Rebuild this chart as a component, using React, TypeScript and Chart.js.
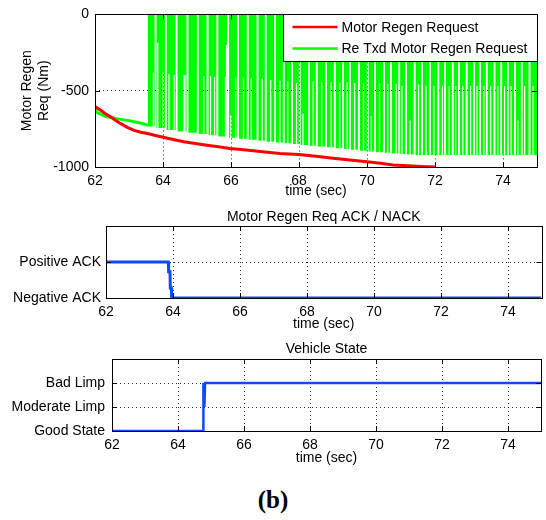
import React, { useEffect, useRef } from 'react';
import { Chart, registerables } from 'chart.js';

Chart.register(...registerables);

const SANS = '"Liberation Sans", Arial, Helvetica, sans-serif';
const GRID = 'rgba(0,0,0,0.85)';
const RED = '#ff0000';
const GREEN = '#00ff00';
const BLUE = 'rgb(16,72,255)';

// shared time axis (sec)
const timeMin = 62;
const timeMax = 75;
const timeTicks = [62, 64, 66, 68, 70, 72, 74];

// ---------- Top panel: Motor Regen Req (Nm) ----------
const regenTicks = [-1000, -500, 0];
const seriesNames = ['Motor Regen Request', 'Re Txd Motor Regen Request'];

const redTime = [62.0, 62.08, 62.18, 62.3, 62.47, 62.6, 62.76, 62.95, 63.15, 63.35, 63.54, 63.75, 63.97, 64.3, 64.61, 64.95, 65.29, 65.63, 65.97, 66.3, 66.65, 67.0, 67.43, 67.99, 68.5, 69.0, 69.5, 69.99, 70.4, 70.77, 71.2, 71.6, 72.0];
const redValue = [-604, -615, -630, -650, -673, -693, -716, -740, -760, -772, -781, -792, -803, -820, -835, -846, -857, -868, -879, -886, -894, -902, -911, -918, -930, -942, -954, -965, -976, -987, -992, -996, -1000];

// re-transmitted request before the oscillation starts
const greenPreTime = [62.0, 62.08, 62.18, 62.3, 62.47, 62.6, 62.76, 63.0, 63.15, 63.3, 63.44, 63.55];
const greenPreValue = [-622, -645, -655, -668, -676, -682, -688, -696, -703, -710, -718, -727];

// oscillating part (0 <-> lower envelope): bursts separated by short drop-outs
const greenBurstStart = [63.55, 63.78, 64.08, 64.40, 64.72, 65.02, 65.31, 65.60, 65.92, 66.21, 66.49, 66.78, 67.02, 67.30, 67.55, 67.80, 68.02, 68.30, 68.52, 68.80, 69.05, 69.30, 69.50, 69.76, 70.02, 70.24, 70.50, 70.70, 70.95, 71.15, 71.40, 71.62, 71.86, 72.10, 72.30, 72.52, 72.70, 72.93, 73.15, 73.33, 73.52, 73.75, 73.95, 74.14, 74.35, 74.55, 74.78];
const greenBurstLow = [-735, -745, -757, -767, -776, -784, -792, -800, -808, -815, -821, -828, -834, -840, -845, -850, -856, -861, -866, -871, -877, -882, -887, -893, -899, -903, -907, -911, -915, -918, -921, -922, -922, -922, -922, -922, -922, -922, -922, -922, -922, -922, -922, -922, -922, -922, -922];
// samples where the signal only dropped part of the way
const greenShallowTime = [63.70, 63.83, 63.99, 64.16, 64.31, 64.60, 64.63, 65.18, 65.38, 65.50, 65.82, 65.85, 65.98, 66.12, 66.35, 66.58, 66.90, 67.15, 67.42, 67.65, 67.91, 68.10, 68.40, 68.65, 68.93, 69.18, 69.40, 69.62, 69.88, 70.11, 70.35, 70.59, 70.84, 71.01, 71.25, 71.50, 71.72, 71.95, 72.20, 72.40, 72.59, 72.80, 73.03, 73.22, 73.42, 73.62, 73.83, 74.03, 74.22, 74.42, 74.62, 74.87];
const greenShallowValue = [-381, -186, -381, -390, -395, -395, -398, -405, -405, -410, -410, -200, -660, -415, -415, -418, -420, -430, -435, -440, -450, -650, -440, -445, -445, -448, -445, -450, -452, -665, -450, -455, -455, -470, -695, -460, -470, -470, -470, -470, -470, -470, -470, -470, -470, -470, -470, -470, -470, -695, -470, -470];
const dropoutWidth = 0.045;
const shallowWidth = 0.035;

// ---------- Middle panel: ACK / NACK ----------
const ackTicks = [0, 1];
const ackLabels = ['Negative ACK', 'Positive ACK'];
const ackTime = [62, 63.86, 63.87, 63.91, 63.92, 63.95, 63.96, 75];
const ackValue = [1, 1, 0.73, 0.73, 0.28, 0.28, 0, 0];

// ---------- Bottom panel: Vehicle State ----------
const stateTicks = [0, 1, 2];
const stateLabels = ['Good State', 'Moderate Limp', 'Bad Limp'];
const stateTime = [62, 64.77, 64.77, 64.8, 64.82, 75];
const stateValue = [0, 0, 2, 1, 2, 2];

const pts = (xs: number[], ys: number[]) => xs.map((x, i) => ({ x, y: ys[i] }));

function buildGreenBursts() {
  const out: { x: number; y: number | null }[] = [];
  for (let i = 0; i < greenBurstStart.length; i++) {
    const s = greenBurstStart[i] + (i === 0 ? 0 : dropoutWidth / 2);
    const e = i + 1 < greenBurstStart.length ? greenBurstStart[i + 1] - dropoutWidth / 2 : timeMax;
    const low = greenBurstLow[i];
    out.push({ x: s, y: low });
    greenShallowTime.forEach((t, k) => {
      if (t > s + 0.005 && t + shallowWidth < e - 0.002) {
        const v = greenShallowValue[k];
        out.push({ x: t, y: low }, { x: t, y: v }, { x: t + shallowWidth, y: v }, { x: t + shallowWidth, y: low });
      }
    });
    out.push({ x: e, y: low });
    out.push({ x: e, y: null });
  }
  return out;
}

const font14 = { family: SANS, size: 14, lineHeight: 1.2, weight: 'normal' as const };

function xScale(height: number, tickPad: number, titlePadBottom: number) {
  return {
    type: 'linear',
    min: timeMin,
    max: timeMax,
    afterBuildTicks: (s: any) => {
      s.ticks = timeTicks.map((v) => ({ value: v }));
    },
    afterFit: (s: any) => {
      s.height = height;
    },
    ticks: { font: font14, color: '#000', padding: tickPad, maxRotation: 0, autoSkip: false, callback: (v: any) => String(v) },
    grid: { color: GRID, lineWidth: 1, drawTicks: false },
    border: { display: false, dash: [1, 3] },
    title: { display: true, text: 'time (sec)', font: font14, color: '#000', padding: { top: 0, bottom: titlePadBottom } },
  };
}

function yScale(min: number, max: number, ticks: number[], labels: string[] | null, width: number, pad: number, title?: any) {
  return {
    type: 'linear',
    min,
    max,
    afterBuildTicks: (s: any) => {
      s.ticks = ticks.map((v) => ({ value: v }));
    },
    afterFit: (s: any) => {
      s.width = width;
    },
    ticks: {
      font: font14,
      color: '#000',
      padding: pad,
      autoSkip: false,
      callback: (v: any) => (labels ? labels[ticks.indexOf(v)] : String(v)),
    },
    grid: { color: GRID, lineWidth: 1, drawTicks: false },
    border: { display: false, dash: [1, 3] },
    title: title || { display: false },
  };
}

const boxPlugin = {
  id: 'matlabBox',
  afterDatasetsDraw(chart: any) {
    const { ctx, chartArea: a } = chart;
    const xs = chart.scales.x;
    const ys = chart.scales.y;
    ctx.save();
    ctx.strokeStyle = '#000';
    ctx.lineWidth = 1;
    ctx.beginPath();
    xs.ticks.forEach((t: any) => {
      const px = Math.round(xs.getPixelForValue(t.value)) + 0.5;
      ctx.moveTo(px, a.bottom);
      ctx.lineTo(px, a.bottom - 5);
      ctx.moveTo(px, a.top);
      ctx.lineTo(px, a.top + 5);
    });
    ys.ticks.forEach((t: any) => {
      const py = Math.round(ys.getPixelForValue(t.value)) + 0.5;
      ctx.moveTo(a.left, py);
      ctx.lineTo(a.left + 5, py);
      ctx.moveTo(a.right, py);
      ctx.lineTo(a.right - 5, py);
    });
    ctx.stroke();
    ctx.strokeRect(Math.round(a.left) + 0.5, Math.round(a.top) + 0.5, Math.round(a.right - a.left), Math.round(a.bottom - a.top));
    ctx.restore();
  },
};

const legendPlugin = {
  id: 'insideLegend',
  afterDraw(chart: any) {
    const { ctx, chartArea: a } = chart;
    const w = 254;
    const h = 47;
    const x0 = Math.round(a.right) - w + 0.5;
    const y0 = Math.round(a.top) + 0.5;
    ctx.save();
    ctx.fillStyle = '#fff';
    ctx.fillRect(x0, y0, w, h);
    ctx.strokeStyle = '#000';
    ctx.lineWidth = 1;
    ctx.strokeRect(x0, y0, w, h);
    const colors = [RED, GREEN];
    ctx.font = `14px ${SANS}`;
    ctx.textBaseline = 'middle';
    ctx.textAlign = 'left';
    seriesNames.forEach((name, i) => {
      const cy = y0 + 12.5 + i * 21.5;
      ctx.strokeStyle = colors[i];
      ctx.lineWidth = 2.5;
      ctx.beginPath();
      ctx.moveTo(x0 + 9, cy);
      ctx.lineTo(x0 + 54, cy);
      ctx.stroke();
      ctx.fillStyle = '#000';
      ctx.fillText(name, x0 + 58, cy + 1);
    });
    ctx.restore();
  },
};

function ChartCanvas({ top, height, build }: { top: number; height: number; build: () => any }) {
  const ref = useRef<HTMLCanvasElement>(null);
  useEffect(() => {
    const chart = new Chart(ref.current as HTMLCanvasElement, build());
    return () => chart.destroy();
  }, []);
  return (
    <div style={{ position: 'absolute', left: 0, top, width: 546, height }}>
      <canvas ref={ref} width={546} height={height} style={{ display: 'block', width: 546, height }} />
    </div>
  );
}

const baseOptions = {
  responsive: false,
  maintainAspectRatio: false,
  animation: false,
  devicePixelRatio: 1,
  events: [] as any[],
  elements: { point: { radius: 0 } },
};

function buildTop() {
  return {
    type: 'line',
    data: {
      datasets: [
        { label: seriesNames[0], data: pts(redTime, redValue), borderColor: RED, borderWidth: 3, fill: false, pointRadius: 0 },
        { label: seriesNames[1], data: pts(greenPreTime, greenPreValue), borderColor: GREEN, borderWidth: 3, fill: false, pointRadius: 0 },
        {
          label: seriesNames[1] + ' (bursts)',
          data: buildGreenBursts(),
          borderColor: 'rgba(0,0,0,0)',
          borderWidth: 1,
          backgroundColor: GREEN,
          fill: 'end',
          spanGaps: false,
          pointRadius: 0,
        },
      ],
    },
    options: {
      ...baseOptions,
      layout: { padding: { top: 13, right: 9, left: 0, bottom: 0 } },
      plugins: { legend: { display: false }, tooltip: { enabled: false }, title: { display: false } },
      scales: {
        x: xScale(33, 6, 0),
        y: yScale(-1000, 0, regenTicks, null, 95, 6, {
          display: true,
          text: ['Motor Regen', 'Req (Nm)'],
          font: { family: SANS, size: 14, lineHeight: 1.18 },
          color: '#000',
          padding: { top: 19, bottom: 0 },
        }),
      },
    },
    plugins: [boxPlugin, legendPlugin],
  };
}

function buildAck() {
  return {
    type: 'line',
    data: {
      datasets: [{ label: 'Motor Regen Req ACK / NACK', data: pts(ackTime, ackValue), borderColor: BLUE, borderWidth: 3, fill: false, pointRadius: 0 }],
    },
    options: {
      ...baseOptions,
      layout: { padding: { top: 0, right: 4.5, left: 0, bottom: 0 } },
      plugins: {
        legend: { display: false },
        tooltip: { enabled: false },
        title: { display: true, fullSize: false, text: 'Motor Regen Req ACK / NACK', font: font14, color: '#000', padding: { top: 8.6, bottom: 0.6 } },
      },
      scales: {
        x: xScale(38, 6, 3),
        y: yScale(0, 2, ackTicks, ackLabels, 106, 5),
      },
    },
    plugins: [boxPlugin],
  };
}

function buildState() {
  return {
    type: 'line',
    data: {
      datasets: [{ label: 'Vehicle State', data: pts(stateTime, stateValue), borderColor: BLUE, borderWidth: 2.5, fill: false, pointRadius: 0 }],
    },
    options: {
      ...baseOptions,
      layout: { padding: { top: 0, right: 5, left: 0, bottom: 0 } },
      plugins: {
        legend: { display: false },
        tooltip: { enabled: false },
        title: { display: true, fullSize: false, text: 'Vehicle State', font: font14, color: '#000', padding: { top: 4.6, bottom: 1.6 } },
      },
      scales: {
        x: xScale(39, 6, 3),
        y: yScale(0, 3, stateTicks, stateLabels, 112, 7),
      },
    },
    plugins: [boxPlugin],
  };
}

export default function App() {
  return (
    <div style={{ position: 'absolute', left: 0, top: 0, width: 546, height: 520, background: '#fff' }}>
      <ChartCanvas top={0} height={200} build={buildTop} />
      <ChartCanvas top={200} height={136} build={buildAck} />
      <ChartCanvas top={336} height={134} build={buildState} />
      <div
        style={{
          position: 'absolute',
          left: 0,
          top: 485,
          width: 546,
          textAlign: 'center',
          font: 'bold 25px "Liberation Serif", "Times New Roman", serif',
          lineHeight: '30px',
          color: '#000',
        }}
      >
        (b)
      </div>
    </div>
  );
}
